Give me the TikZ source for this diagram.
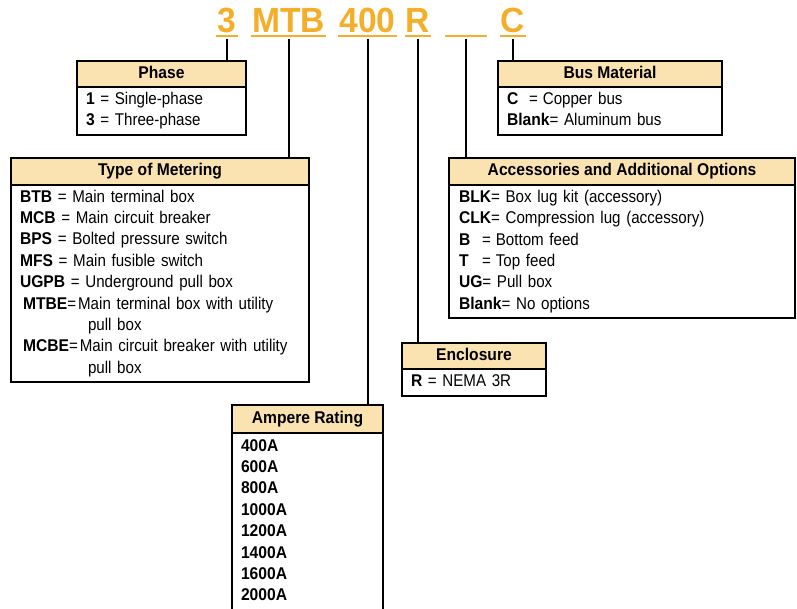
\documentclass[tikz,border=0pt]{standalone}
\usepackage{fontspec}
\setmainfont{Liberation Sans}[UprightFeatures={FakeStretch=0.89, WordSpace=0.8}, BoldFeatures={FakeStretch=0.92}]
\newfontfamily\codefont{Liberation Sans}[FakeStretch=0.96]
\usetikzlibrary{positioning}
\definecolor{codeorange}{RGB}{245,174,42}
\definecolor{headtan}{RGB}{250,227,176}
\setlength{\parindent}{0pt}

\begin{document}
\begin{tikzpicture}[x=1pt, y=-1pt,
		code/.style={anchor=base, text=codeorange, font=\codefont\fontsize{35}{40}\selectfont\bfseries, inner xsep=1pt, inner ysep=3pt, text depth=0pt},
		codeline/.style={draw=codeorange, line width=2pt},
		head/.style={draw, fill=headtan, line width=1.3pt, outer sep=0pt, anchor=north west, minimum height=26pt, inner ysep=2pt, text height=12.5pt, text depth=4pt, font=\fontsize{17}{21.4}\selectfont\bfseries},
		body/.style={draw, line width=1.3pt, outer sep=0pt, anchor=north west, align=left, inner xsep=9pt, inner ysep=0pt, font=\fontsize{17}{21.4}\selectfont, execute at begin node=\strut, execute at end node=\strut},
		link/.style={line width=2pt, shorten <=3pt}]
		\useasboundingbox (0,0) rectangle (797,609);

		\draw (227,33) node [code] (c3) {3};
		\draw (288.5,33) node [code] (cmtb) {MTB};
		\draw (367.5,33) node [code] (c400) {400};
		\draw (418,33) node [code] (cr) {R};
		\draw (466,33) node [code, minimum width=42pt] (cblank) {};
		\draw (513,33) node [code] (cc) {C};
		\foreach \c in {c3,cmtb,c400,cr,cblank,cc}
			\draw [codeline] (\c.south west) -- (\c.south east);

		\draw (77,61) node [head, minimum width=169pt] (phase) {Phase};
		\draw (phase.south west) node [body, text width=151pt, minimum height=48pt] (phasebody)
			{\textbf{1} = Single-phase\\\textbf{3} = Three-phase};

		\draw (11,158) node [head, minimum width=298pt, minimum height=27pt] (meter) {Type of Metering};
		\draw (meter.south west) node [body, text width=280pt, minimum height=197pt] (meterbody)
			{\textbf{BTB} = Main terminal box\\
			\textbf{MCB} = Main circuit breaker\\
			\textbf{BPS} = Bolted pressure switch\\
			\textbf{MFS} = Main fusible switch\\
			\textbf{UGPB} = Underground pull box\\
			\hspace*{3pt}\textbf{MTBE}=\hspace{2pt}Main terminal box with utility\\
			\hspace*{68pt}pull box\\
			\hspace*{3pt}\textbf{MCBE}=\hspace{2pt}Main circuit breaker with utility\\
			\hspace*{68pt}pull box};

		\draw (498,61) node [head, minimum width=224pt] (bus) {Bus Material};
		\draw (bus.south west) node [body, text width=206pt, minimum height=48pt] (busbody)
			{\makebox[22pt][l]{\textbf{C}}=\hspace{5pt}Copper bus\\\textbf{Blank}= Aluminum bus};

		\draw (449,158) node [head, minimum width=346pt, minimum height=27pt] (acc) {Accessories and Additional Options};
		\draw (acc.south west) node [body, text width=326pt, inner xsep=10pt, minimum height=133pt] (accbody)
			{\textbf{BLK}= Box lug kit (accessory)\\
			\textbf{CLK}= Compression lug (accessory)\\
			\makebox[23pt][l]{\textbf{B}}=\hspace{5pt}Bottom feed\\
			\makebox[23pt][l]{\textbf{T}}=\hspace{5pt}Top feed\\
			\textbf{UG}= Pull box\\
			\textbf{Blank}= No options};

		\draw (402,343) node [head, minimum width=144pt] (encl) {Enclosure};
		\draw (encl.south west) node [body, text width=126pt, minimum height=27pt] (enclbody)
			{\textbf{R} = NEMA 3R};

		\draw (232,405) node [head, minimum width=151pt, minimum height=28pt] (amp) {Ampere Rating};
		\draw (amp.south west) node [body, text width=133pt, minimum height=199pt] (ampbody)
			{\textbf{400A}\\\textbf{600A}\\\textbf{800A}\\\textbf{1000A}\\\textbf{1200A}\\\textbf{1400A}\\\textbf{1600A}\\\textbf{2000A}\\};

		\draw [link]
		(c3.south) edge (c3.south |- phase.north)
		(cmtb.south) edge (cmtb.south |- meter.north)
		(c400.south) edge (c400.south |- amp.north)
		(cr.south) edge (cr.south |- encl.north)
		(cblank.south) edge (cblank.south |- acc.north)
		(cc.south) edge (cc.south |- bus.north);
	\end{tikzpicture}
\end{document}
